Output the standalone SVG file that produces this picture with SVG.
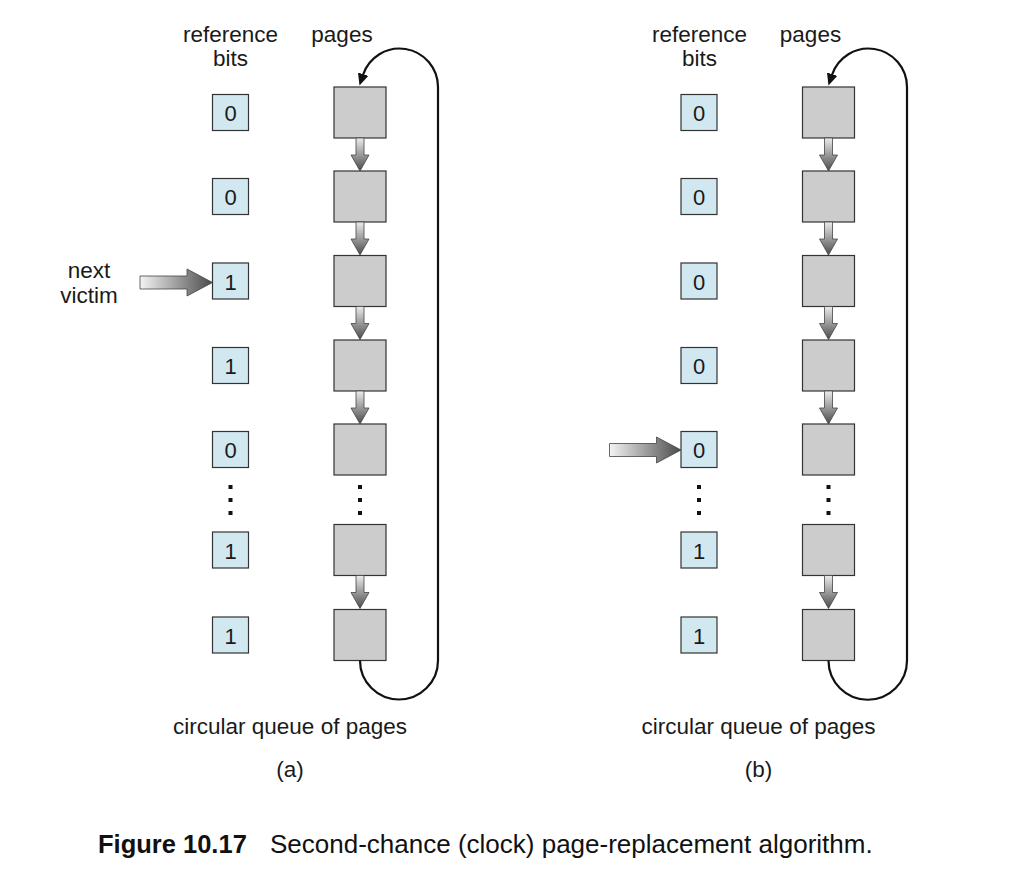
<svg xmlns="http://www.w3.org/2000/svg" xmlns:xlink="http://www.w3.org/1999/xlink" width="1020" height="876" viewBox="0 0 1020 876">
<style>
text{font-family:"Liberation Sans",Arial,Helvetica,sans-serif;fill:#1a1a1a}
.lbl{font-size:22.5px;text-anchor:middle}
.dig{font-size:22px;text-anchor:middle}
.bit{fill:#d2e8f1;stroke:#333;stroke-width:1.2}
.page{fill:#cccccc;stroke:#333;stroke-width:1.2}
.dot{fill:#111}
.loop{fill:none;stroke:#111;stroke-width:2.2;marker-end:url(#ah)}
.va{fill:url(#gv);stroke:#444;stroke-width:0.8}
.ha{fill:url(#gh);stroke:#444;stroke-width:0.8}
.cap{font-size:25.5px;fill:#111}
</style>
<defs>
<linearGradient id="gv" x1="0" y1="0" x2="0" y2="1">
<stop offset="0" stop-color="#ececec"/>
<stop offset="1" stop-color="#4a4a4a"/>
</linearGradient>
<linearGradient id="gh" x1="0" y1="0" x2="1" y2="0">
<stop offset="0" stop-color="#f4f4f4"/>
<stop offset="1" stop-color="#4a4a4a"/>
</linearGradient>
<marker id="ah" viewBox="0 -6 12 12" markerWidth="12" markerHeight="12" refX="1" refY="0" orient="auto" markerUnits="userSpaceOnUse">
<path d="M0,-5.5 L12,0 L0,5.5 Z" fill="#111"/>
</marker>
<path id="down" d="M-4,0 H4 V17 H9 L0,33 L-9,17 H-4 Z"/>
</defs>

<!-- Panel (a) -->
<g id="labels-a">
<text class="lbl" x="230.5" y="41.5">reference</text>
<text class="lbl" x="230.5" y="65.5">bits</text>
<text class="lbl" x="342" y="41.5">pages</text>
<text class="lbl" x="89" y="278">next</text>
<text class="lbl" x="89" y="303">victim</text>
<text class="lbl" x="290" y="734">circular queue of pages</text>
<text class="lbl" x="290" y="777">(a)</text>
</g>
<g id="bits-a">
<g id="a-bit0"><rect class="bit" x="212.5" y="94.5" width="36" height="36"/><text class="dig" x="230.5" y="121">0</text></g>
<g id="a-bit1"><rect class="bit" x="212.5" y="178.5" width="36" height="36"/><text class="dig" x="230.5" y="205">0</text></g>
<g id="a-bit2"><rect class="bit" x="212.5" y="263" width="36" height="36"/><text class="dig" x="230.5" y="289.5">1</text></g>
<g id="a-bit3"><rect class="bit" x="212.5" y="347.5" width="36" height="36"/><text class="dig" x="230.5" y="374">1</text></g>
<g id="a-bit4"><rect class="bit" x="212.5" y="431.5" width="36" height="36"/><text class="dig" x="230.5" y="458">0</text></g>
<g id="a-bitdots"><rect class="dot" x="228.5" y="485" width="4" height="4"/><rect class="dot" x="228.5" y="498" width="4" height="4"/><rect class="dot" x="228.5" y="511" width="4" height="4"/></g>
<g id="a-bit5"><rect class="bit" x="212.5" y="532" width="36" height="36"/><text class="dig" x="230.5" y="558.5">1</text></g>
<g id="a-bit6"><rect class="bit" x="212.5" y="617" width="36" height="36"/><text class="dig" x="230.5" y="643.5">1</text></g>
</g>
<g id="pages-a">
<g id="a-page0"><rect class="page" x="334" y="87" width="52" height="51"/></g>
<g id="a-page1"><rect class="page" x="334" y="171" width="52" height="51"/></g>
<g id="a-page2"><rect class="page" x="334" y="255.5" width="52" height="51"/></g>
<g id="a-page3"><rect class="page" x="334" y="340" width="52" height="51"/></g>
<g id="a-page4"><rect class="page" x="334" y="424" width="52" height="51"/></g>
<g id="a-pagedots"><rect class="dot" x="358" y="485" width="4" height="4"/><rect class="dot" x="358" y="498" width="4" height="4"/><rect class="dot" x="358" y="511" width="4" height="4"/></g>
<g id="a-page5"><rect class="page" x="334" y="524.5" width="52" height="51"/></g>
<g id="a-page6"><rect class="page" x="334" y="609.5" width="52" height="51"/></g>
</g>
<g id="connectors-a">
<use xlink:href="#down" class="va" x="360" y="138"/>
<use xlink:href="#down" class="va" x="360" y="222"/>
<use xlink:href="#down" class="va" x="360" y="306.5"/>
<use xlink:href="#down" class="va" x="360" y="391"/>
<use xlink:href="#down" class="va" x="360" y="575.5"/>
<path class="loop" d="M360 660.5 A39 39 0 0 0 438 660.5 V87 A38.5 38.5 0 0 0 362.9 75.1"/>
<path class="ha" d="M140,276 H187 V269 L212.5,282.5 L187,296 V289 H140 Z"/>
</g>

<!-- Panel (b) -->
<g id="labels-b">
<text class="lbl" x="699.5" y="41.5">reference</text>
<text class="lbl" x="699.5" y="65.5">bits</text>
<text class="lbl" x="810.5" y="41.5">pages</text>
<text class="lbl" x="758.5" y="734">circular queue of pages</text>
<text class="lbl" x="758.5" y="777">(b)</text>
</g>
<g id="bits-b">
<g id="b-bit0"><rect class="bit" x="681" y="94.5" width="36" height="36"/><text class="dig" x="699" y="121">0</text></g>
<g id="b-bit1"><rect class="bit" x="681" y="178.5" width="36" height="36"/><text class="dig" x="699" y="205">0</text></g>
<g id="b-bit2"><rect class="bit" x="681" y="263" width="36" height="36"/><text class="dig" x="699" y="289.5">0</text></g>
<g id="b-bit3"><rect class="bit" x="681" y="347.5" width="36" height="36"/><text class="dig" x="699" y="374">0</text></g>
<g id="b-bit4"><rect class="bit" x="681" y="431.5" width="36" height="36"/><text class="dig" x="699" y="458">0</text></g>
<g id="b-bitdots"><rect class="dot" x="697" y="485" width="4" height="4"/><rect class="dot" x="697" y="498" width="4" height="4"/><rect class="dot" x="697" y="511" width="4" height="4"/></g>
<g id="b-bit5"><rect class="bit" x="681" y="532" width="36" height="36"/><text class="dig" x="699" y="558.5">1</text></g>
<g id="b-bit6"><rect class="bit" x="681" y="617" width="36" height="36"/><text class="dig" x="699" y="643.5">1</text></g>
</g>
<g id="pages-b">
<g id="b-page0"><rect class="page" x="802.5" y="87" width="52" height="51"/></g>
<g id="b-page1"><rect class="page" x="802.5" y="171" width="52" height="51"/></g>
<g id="b-page2"><rect class="page" x="802.5" y="255.5" width="52" height="51"/></g>
<g id="b-page3"><rect class="page" x="802.5" y="340" width="52" height="51"/></g>
<g id="b-page4"><rect class="page" x="802.5" y="424" width="52" height="51"/></g>
<g id="b-pagedots"><rect class="dot" x="826.5" y="485" width="4" height="4"/><rect class="dot" x="826.5" y="498" width="4" height="4"/><rect class="dot" x="826.5" y="511" width="4" height="4"/></g>
<g id="b-page5"><rect class="page" x="802.5" y="524.5" width="52" height="51"/></g>
<g id="b-page6"><rect class="page" x="802.5" y="609.5" width="52" height="51"/></g>
</g>
<g id="connectors-b">
<use xlink:href="#down" class="va" x="828.5" y="138"/>
<use xlink:href="#down" class="va" x="828.5" y="222"/>
<use xlink:href="#down" class="va" x="828.5" y="306.5"/>
<use xlink:href="#down" class="va" x="828.5" y="391"/>
<use xlink:href="#down" class="va" x="828.5" y="575.5"/>
<path class="loop" d="M828.5 660.5 A39.25 39.25 0 0 0 907 660.5 V87 A38.5 38.5 0 0 0 831.9 75.1"/>
<path class="ha" d="M609.5,443.5 H656.5 V437 L681,450 L656.5,463 V456.5 H609.5 Z"/>
</g>

<g id="caption">
<text class="cap" x="98" y="853" font-weight="bold">Figure 10.17</text>
<text class="cap" x="270" y="853" style="font-size:26px">Second-chance (clock) page-replacement algorithm.</text>
</g>
</svg>
